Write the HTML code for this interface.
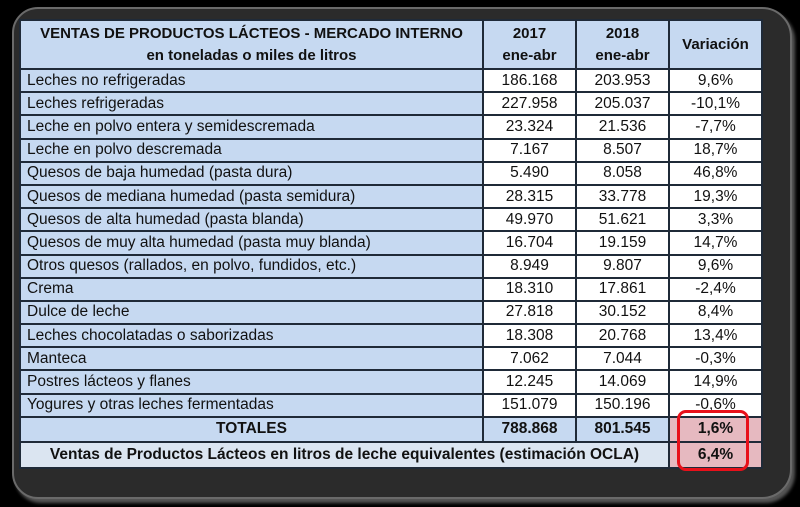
<!DOCTYPE html>
<html><head><meta charset="utf-8"><style>
body{margin:0;width:800px;height:507px;background:#000;position:relative;overflow:hidden;font-family:"Liberation Sans",sans-serif;}
#panel{position:absolute;left:12px;top:7px;width:776px;height:488px;background:#2b2b2b;border:2px solid #6a6a6a;border-radius:26px 30px 30px 26px;box-shadow:3px 4px 3px #555;}
table{position:absolute;left:19px;top:19px;border-collapse:collapse;table-layout:fixed;}
td{border:2px solid #1f2a38;padding:0;height:21.2px;font-size:15.5px;color:#111;white-space:nowrap;overflow:hidden;}
.lab{background:#c6d9f1;padding-left:6px;width:455px;}
.num{background:#fff;text-align:center;width:91px;}
.hd{background:#c6d9f1;font-weight:bold;text-align:center;font-size:15px;line-height:22px;}
.tot td{background:#c6d9f1;font-weight:bold;text-align:center;height:23px;}
.last td{background:#dbe5f1;font-weight:bold;text-align:center;height:24px;}
.pink{background:#e6b9c0!important;}
#box{position:absolute;left:677px;top:410px;width:66px;height:55px;border:3px solid #e8101a;border-radius:9px;}
</style></head><body>
<div id="panel"></div>
<table>
<tr>
<td class="hd" style="width:461px;height:47px">VENTAS DE PRODUCTOS LÁCTEOS - MERCADO INTERNO<br>en toneladas o miles de litros</td>
<td class="hd" style="width:91px">2017<br>ene-abr</td>
<td class="hd" style="width:91px">2018<br>ene-abr</td>
<td class="hd" style="width:90px">Variación</td>
</tr>
<tbody id="rows"></tbody>
<tr class="tot">
<td>TOTALES</td>
<td>788.868</td>
<td>801.545</td>
<td class="pink">1,6%</td>
</tr>
<tr class="last">
<td colspan="3">Ventas de Productos Lácteos en litros de leche equivalentes (estimación OCLA)</td>
<td class="pink">6,4%</td>
</tr>
</table>
<div id="box"></div>
<script>
const products=["Leches no refrigeradas","Leches refrigeradas","Leche en polvo entera y semidescremada","Leche en polvo descremada","Quesos de baja humedad (pasta dura)","Quesos de mediana humedad (pasta semidura)","Quesos de alta humedad (pasta blanda)","Quesos de muy alta humedad (pasta muy blanda)","Otros quesos (rallados, en polvo, fundidos, etc.)","Crema","Dulce de leche","Leches chocolatadas o saborizadas","Manteca","Postres lácteos y flanes","Yogures y otras leches fermentadas"];
const v2017=["186.168","227.958","23.324","7.167","5.490","28.315","49.970","16.704","8.949","18.310","27.818","18.308","7.062","12.245","151.079"];
const v2018=["203.953","205.037","21.536","8.507","8.058","33.778","51.621","19.159","9.807","17.861","30.152","20.768","7.044","14.069","150.196"];
const variation=["9,6%","-10,1%","-7,7%","18,7%","46,8%","19,3%","3,3%","14,7%","9,6%","-2,4%","8,4%","13,4%","-0,3%","14,9%","-0,6%"];
const tb=document.getElementById('rows');
products.forEach((p,i)=>{
const tr=document.createElement('tr');


[[p,'lab','product-name'],[v2017[i],'num','value-2017'],[v2018[i],'num','value-2018'],[variation[i],'num','variation-value']].forEach(c=>{
const td=document.createElement('td');td.textContent=c[0];td.className=c[1];


tr.appendChild(td);});
tb.appendChild(tr);});
</script>
</body></html>
